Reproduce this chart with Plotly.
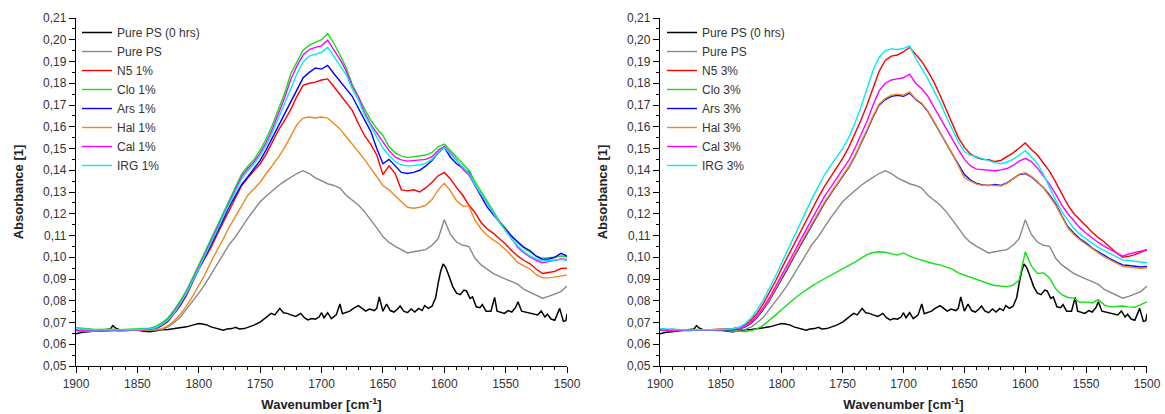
import plotly.graph_objects as go

# ---------------- data ----------------
wavenumber = list(range(1900, 1499, -5))  # 1900 ... 1500

black_wn = [1900, 1895, 1890, 1885, 1880, 1875, 1872, 1870, 1868, 1865, 1860, 1855, 1850, 1845, 1840, 1835,
            1830, 1825, 1820, 1815, 1810, 1805, 1800, 1797, 1793, 1790, 1785, 1780, 1777, 1773, 1770, 1767,
            1763, 1760, 1755, 1750, 1745, 1741, 1738, 1735, 1734, 1731, 1728, 1725, 1721, 1717, 1714, 1711,
            1708, 1705, 1702, 1700, 1698, 1695, 1692, 1688, 1685, 1683, 1680, 1677, 1674, 1670, 1667, 1664,
            1661, 1657, 1655, 1653, 1650, 1647, 1644, 1641, 1638, 1636, 1633, 1630, 1627, 1624, 1621, 1618,
            1616, 1613, 1610, 1607, 1605, 1603, 1601, 1599, 1597, 1595, 1593, 1590, 1587, 1584, 1582, 1579,
            1577, 1574, 1571, 1569, 1566, 1562, 1559, 1557, 1554, 1551, 1548, 1545, 1542, 1540, 1537, 1532,
            1528, 1524, 1521, 1518, 1516, 1513, 1510, 1506, 1503, 1501, 1500]
pure_ps_0h = [0.0648, 0.0655, 0.0657, 0.0660, 0.0663, 0.0665, 0.0670, 0.0686, 0.0675, 0.0668, 0.0667, 0.0666,
              0.0665, 0.0660, 0.0657, 0.0662, 0.0667, 0.0668, 0.0672, 0.0675, 0.0680, 0.0688, 0.0695, 0.0693,
              0.0688, 0.0680, 0.0672, 0.0665, 0.0670, 0.0672, 0.0678, 0.0670, 0.0672, 0.0678, 0.0688, 0.0702,
              0.0722, 0.0742, 0.0735, 0.0755, 0.0765, 0.0745, 0.0742, 0.0735, 0.0728, 0.0742, 0.0722, 0.0712,
              0.0718, 0.0715, 0.0725, 0.0745, 0.0722, 0.0745, 0.0718, 0.0735, 0.0785, 0.0740, 0.0745, 0.0752,
              0.0765, 0.0778, 0.0765, 0.0752, 0.0762, 0.0755, 0.0765, 0.0818, 0.0752, 0.0785, 0.0755, 0.0748,
              0.0762, 0.0776, 0.0752, 0.0745, 0.0762, 0.0748, 0.0765, 0.0755, 0.0778, 0.0765, 0.0775, 0.0815,
              0.0880, 0.0935, 0.0969, 0.0955, 0.0926, 0.0895, 0.0864, 0.0835, 0.0828, 0.0849, 0.0845, 0.0811,
              0.0818, 0.0772, 0.0768, 0.0782, 0.0752, 0.0752, 0.0815, 0.0752, 0.0748, 0.0742, 0.0755, 0.0748,
              0.0768, 0.0795, 0.0752, 0.0745, 0.0740, 0.0735, 0.0753, 0.0725, 0.0738, 0.0716, 0.0710, 0.0765,
              0.0705, 0.0708, 0.0740]

pure_ps = [0.0664, 0.0663, 0.0665, 0.0662, 0.0664, 0.0663, 0.0666, 0.0664, 0.0665, 0.0664,
           0.0663, 0.0665, 0.0664, 0.0665, 0.0668, 0.0680, 0.0700, 0.0725, 0.0760, 0.0795,
           0.0835, 0.0875, 0.0920, 0.0968, 0.1015, 0.1060, 0.1095, 0.1140, 0.1180, 0.1218,
           0.1255, 0.1282, 0.1308, 0.1330, 0.1350, 0.1368, 0.1385, 0.1398, 0.1385, 0.1365,
           0.1350, 0.1338, 0.1330, 0.1318, 0.1285, 0.1262, 0.1240, 0.1210, 0.1175, 0.1135,
           0.1095, 0.1068, 0.1050, 0.1035, 0.1020, 0.1025, 0.1030, 0.1035, 0.1055, 0.1085,
           0.1172, 0.1105, 0.1070, 0.1055, 0.1050, 0.0995, 0.0965, 0.0945, 0.0925, 0.0912,
           0.0900, 0.0890, 0.0875, 0.0852, 0.0838, 0.0825, 0.0812, 0.0820, 0.0832, 0.0842,
           0.0868]

# ----- 1 % samples (left panel) -----
n5_1 = [0.0665, 0.0663, 0.0664, 0.0662, 0.0663, 0.0664, 0.0662, 0.0663, 0.0665, 0.0664,
        0.0665, 0.0666, 0.0668, 0.0672, 0.0685, 0.0705, 0.0740, 0.0778, 0.0825, 0.0885,
        0.0945, 0.0995, 0.1045, 0.1105, 0.1160, 0.1220, 0.1275, 0.1330, 0.1365, 0.1395,
        0.1430, 0.1475, 0.1530, 0.1585, 0.1630, 0.1680, 0.1740, 0.1790, 0.1800, 0.1805,
        0.1815, 0.1820, 0.1785, 0.1750, 0.1715, 0.1675, 0.1615, 0.1560, 0.1520, 0.1470,
        0.1380, 0.1420, 0.1385, 0.1310, 0.1305, 0.1310, 0.1300, 0.1320, 0.1345, 0.1375,
        0.1390, 0.1360, 0.1320, 0.1285, 0.1240, 0.1205, 0.1160, 0.1130, 0.1110, 0.1085,
        0.1060, 0.1030, 0.1005, 0.0985, 0.0970, 0.0945, 0.0925, 0.0930, 0.0935, 0.0948,
        0.0950]
clo_1 = [0.0676, 0.0672, 0.0671, 0.0668, 0.0669, 0.0667, 0.0669, 0.0667, 0.0668, 0.0670,
         0.0671, 0.0673, 0.0674, 0.0682, 0.0698, 0.0722, 0.0758, 0.0800, 0.0848, 0.0905,
         0.0965, 0.1025, 0.1085, 0.1148, 0.1210, 0.1268, 0.1328, 0.1383, 0.1418, 0.1448,
         0.1492, 0.1545, 0.1608, 0.1678, 0.1755, 0.1845, 0.1902, 0.1952, 0.1975, 0.1988,
         0.2000, 0.2028, 0.1985, 0.1930, 0.1872, 0.1795, 0.1735, 0.1682, 0.1632, 0.1592,
         0.1560, 0.1508, 0.1480, 0.1466, 0.1458, 0.1462, 0.1466, 0.1470, 0.1482, 0.1508,
         0.1520, 0.1490, 0.1455, 0.1428, 0.1400, 0.1348, 0.1302, 0.1252, 0.1206, 0.1166,
         0.1132, 0.1100, 0.1066, 0.1042, 0.1022, 0.1004, 0.0996, 0.0997, 0.1000, 0.1006,
         0.1002]
ars_1 = [0.0666, 0.0664, 0.0665, 0.0663, 0.0664, 0.0662, 0.0664, 0.0663, 0.0664, 0.0665,
         0.0666, 0.0667, 0.0668, 0.0672, 0.0688, 0.0710, 0.0745, 0.0785, 0.0832, 0.0890,
         0.0950, 0.1000, 0.1055, 0.1115, 0.1175, 0.1235, 0.1285, 0.1335, 0.1370, 0.1405,
         0.1445, 0.1495, 0.1550, 0.1610, 0.1665, 0.1720, 0.1775, 0.1825, 0.1850, 0.1870,
         0.1865, 0.1882, 0.1845, 0.1810, 0.1780, 0.1740, 0.1685, 0.1630, 0.1580, 0.1500,
         0.1430, 0.1450, 0.1420, 0.1390, 0.1385, 0.1390, 0.1400, 0.1420, 0.1445, 0.1480,
         0.1505, 0.1460, 0.1430, 0.1410, 0.1390, 0.1330, 0.1280, 0.1230, 0.1195, 0.1160,
         0.1125, 0.1095, 0.1070, 0.1045, 0.1030, 0.1005, 0.0990, 0.0992, 0.1000, 0.1018,
         0.1005]
hal_1 = [0.0662, 0.0661, 0.0663, 0.0662, 0.0660, 0.0662, 0.0663, 0.0661, 0.0662, 0.0663,
         0.0664, 0.0665, 0.0665, 0.0667, 0.0672, 0.0685, 0.0708, 0.0738, 0.0775, 0.0820,
         0.0870, 0.0920, 0.0980, 0.1030, 0.1085, 0.1140, 0.1190, 0.1240, 0.1285, 0.1315,
         0.1345, 0.1385, 0.1420, 0.1460, 0.1505, 0.1560, 0.1610, 0.1640, 0.1645, 0.1640,
         0.1645, 0.1640, 0.1615, 0.1590, 0.1555, 0.1520, 0.1490, 0.1450, 0.1410, 0.1370,
         0.1330, 0.1310, 0.1280, 0.1255, 0.1230, 0.1225, 0.1230, 0.1240, 0.1265, 0.1310,
         0.1340, 0.1305, 0.1260, 0.1235, 0.1235, 0.1170, 0.1130, 0.1100, 0.1080, 0.1060,
         0.1035, 0.1005, 0.0975, 0.0960, 0.0945, 0.0920, 0.0905, 0.0905, 0.0910, 0.0915,
         0.0918]
cal_1 = [0.0664, 0.0662, 0.0665, 0.0663, 0.0660, 0.0662, 0.0664, 0.0661, 0.0663, 0.0664,
         0.0665, 0.0667, 0.0669, 0.0676, 0.0692, 0.0716, 0.0750, 0.0792, 0.0840, 0.0895,
         0.0955, 0.1012, 0.1072, 0.1135, 0.1198, 0.1256, 0.1318, 0.1372, 0.1408, 0.1438,
         0.1478, 0.1528, 0.1590, 0.1660, 0.1735, 0.1818, 0.1880, 0.1930, 0.1955, 0.1965,
         0.1972, 0.1998, 0.1955, 0.1910, 0.1858, 0.1785, 0.1738, 0.1665, 0.1612, 0.1572,
         0.1535, 0.1490, 0.1460, 0.1448, 0.1442, 0.1445, 0.1446, 0.1450, 0.1462, 0.1492,
         0.1510, 0.1478, 0.1448, 0.1405, 0.1378, 0.1330, 0.1288, 0.1245, 0.1206, 0.1160,
         0.1125, 0.1085, 0.1045, 0.1020, 0.1000, 0.0985, 0.0975, 0.0980, 0.0985, 0.0992,
         0.0990]
irg_1 = [0.0670, 0.0668, 0.0669, 0.0667, 0.0666, 0.0668, 0.0667, 0.0666, 0.0668, 0.0667,
         0.0668, 0.0669, 0.0671, 0.0676, 0.0690, 0.0712, 0.0745, 0.0788, 0.0835, 0.0890,
         0.0948, 0.1005, 0.1065, 0.1125, 0.1188, 0.1245, 0.1305, 0.1360, 0.1398, 0.1430,
         0.1468, 0.1515, 0.1575, 0.1640, 0.1705, 0.1775, 0.1845, 0.1898, 0.1925, 0.1935,
         0.1942, 0.1965, 0.1925, 0.1885, 0.1840, 0.1775, 0.1722, 0.1655, 0.1602, 0.1555,
         0.1502, 0.1468, 0.1440, 0.1425, 0.1420, 0.1422, 0.1425, 0.1432, 0.1450, 0.1482,
         0.1505, 0.1475, 0.1445, 0.1412, 0.1385, 0.1335, 0.1290, 0.1245, 0.1205, 0.1160,
         0.1120, 0.1085, 0.1050, 0.1025, 0.1005, 0.0992, 0.0985, 0.0985, 0.0987, 0.0990,
         0.0986]

# ----- 3 % samples (right panel) -----
n5_3 = [0.0668, 0.0666, 0.0668, 0.0665, 0.0667, 0.0666, 0.0665, 0.0667, 0.0666, 0.0668,
        0.0669, 0.0671, 0.0673, 0.0677, 0.0690, 0.0712, 0.0745, 0.0788, 0.0838, 0.0892,
        0.0950, 0.1005, 0.1060, 0.1115, 0.1170, 0.1222, 0.1275, 0.1325, 0.1368, 0.1410,
        0.1455, 0.1505, 0.1565, 0.1630, 0.1700, 0.1780, 0.1855, 0.1905, 0.1925, 0.1930,
        0.1945, 0.1965, 0.1930, 0.1900, 0.1855, 0.1805, 0.1745, 0.1680, 0.1610, 0.1550,
        0.1505, 0.1475, 0.1458, 0.1450, 0.1448, 0.1440, 0.1445, 0.1462, 0.1480, 0.1502,
        0.1525, 0.1495, 0.1470, 0.1432, 0.1395, 0.1345, 0.1290, 0.1240, 0.1200, 0.1170,
        0.1140, 0.1115, 0.1090, 0.1070, 0.1045, 0.1020, 0.1000, 0.1004, 0.1012, 0.1025,
        0.1035]
clo_3 = [0.0668, 0.0666, 0.0667, 0.0665, 0.0666, 0.0664, 0.0666, 0.0665, 0.0664, 0.0663,
         0.0661, 0.0659, 0.0657, 0.0656, 0.0658, 0.0663, 0.0672, 0.0688, 0.0710, 0.0735,
         0.0760, 0.0785, 0.0808, 0.0830, 0.0850, 0.0868, 0.0885, 0.0900, 0.0915, 0.0930,
         0.0945, 0.0962, 0.0978, 0.0995, 0.1012, 0.1022, 0.1025, 0.1023, 0.1018, 0.1010,
         0.1020, 0.1005, 0.0995, 0.0985, 0.0978, 0.0970, 0.0965, 0.0955, 0.0945, 0.0928,
         0.0918, 0.0905, 0.0895, 0.0885, 0.0878, 0.0870, 0.0866, 0.0865, 0.0872, 0.0895,
         0.1025, 0.0960, 0.0925, 0.0928, 0.0905, 0.0855, 0.0828, 0.0815, 0.0812, 0.0792,
         0.0795, 0.0790, 0.0805, 0.0780, 0.0772, 0.0775, 0.0776, 0.0772, 0.0770, 0.0782,
         0.0795]
ars_3 = [0.0670, 0.0667, 0.0668, 0.0666, 0.0664, 0.0665, 0.0666, 0.0664, 0.0665, 0.0666,
         0.0665, 0.0667, 0.0668, 0.0670, 0.0680, 0.0697, 0.0725, 0.0760, 0.0802, 0.0850,
         0.0900, 0.0950, 0.1002, 0.1052, 0.1102, 0.1152, 0.1200, 0.1248, 0.1290, 0.1330,
         0.1370, 0.1412, 0.1462, 0.1520, 0.1582, 0.1645, 0.1700, 0.1725, 0.1740, 0.1745,
         0.1740, 0.1755, 0.1725, 0.1705, 0.1670, 0.1622, 0.1570, 0.1525, 0.1475, 0.1425,
         0.1380, 0.1355, 0.1340, 0.1332, 0.1330, 0.1335, 0.1330, 0.1342, 0.1362, 0.1380,
         0.1385, 0.1370, 0.1345, 0.1320, 0.1285, 0.1245, 0.1190, 0.1140, 0.1110, 0.1085,
         0.1065, 0.1042, 0.1025, 0.1008, 0.0992, 0.0978, 0.0965, 0.0962, 0.0958, 0.0955,
         0.0958]
hal_3 = [0.0667, 0.0665, 0.0667, 0.0665, 0.0666, 0.0664, 0.0665, 0.0666, 0.0664, 0.0665,
         0.0666, 0.0668, 0.0669, 0.0672, 0.0683, 0.0700, 0.0729, 0.0764, 0.0806, 0.0855,
         0.0905, 0.0955, 0.1007, 0.1058, 0.1108, 0.1158, 0.1205, 0.1252, 0.1294, 0.1334,
         0.1374, 0.1416, 0.1466, 0.1524, 0.1586, 0.1650, 0.1705, 0.1730, 0.1745, 0.1750,
         0.1745, 0.1760, 0.1728, 0.1708, 0.1672, 0.1625, 0.1572, 0.1525, 0.1478, 0.1420,
         0.1365, 0.1350, 0.1336, 0.1330, 0.1332, 0.1330, 0.1328, 0.1340, 0.1360, 0.1382,
         0.1388, 0.1372, 0.1348, 0.1318, 0.1280, 0.1240, 0.1188, 0.1135, 0.1105, 0.1080,
         0.1060, 0.1038, 0.1020, 0.1002, 0.0988, 0.0972, 0.0958, 0.0955, 0.0950, 0.0948,
         0.0952]
cal_3 = [0.0666, 0.0664, 0.0666, 0.0664, 0.0665, 0.0663, 0.0665, 0.0664, 0.0666, 0.0665,
         0.0666, 0.0668, 0.0670, 0.0673, 0.0684, 0.0702, 0.0732, 0.0770, 0.0815, 0.0865,
         0.0918, 0.0970, 0.1022, 0.1075, 0.1128, 0.1180, 0.1230, 0.1280, 0.1320, 0.1360,
         0.1400, 0.1445, 0.1500, 0.1560, 0.1625, 0.1700, 0.1765, 0.1800, 0.1815, 0.1820,
         0.1825, 0.1842, 0.1800, 0.1775, 0.1740, 0.1690, 0.1640, 0.1590, 0.1540, 0.1495,
         0.1450, 0.1420, 0.1405, 0.1402, 0.1398, 0.1398, 0.1402, 0.1408, 0.1422, 0.1442,
         0.1455, 0.1440, 0.1410, 0.1375, 0.1335, 0.1290, 0.1240, 0.1200, 0.1165, 0.1135,
         0.1110, 0.1088, 0.1068, 0.1050, 0.1035, 0.1018, 0.1005, 0.1015, 0.1022, 0.1030,
         0.1035]
irg_3 = [0.0672, 0.0670, 0.0668, 0.0667, 0.0666, 0.0665, 0.0667, 0.0666, 0.0668, 0.0667,
         0.0668, 0.0670, 0.0672, 0.0678, 0.0695, 0.0722, 0.0760, 0.0805, 0.0858, 0.0915,
         0.0975, 0.1035, 0.1095, 0.1155, 0.1218, 0.1272, 0.1325, 0.1378, 0.1420, 0.1458,
         0.1500, 0.1550, 0.1615, 0.1690, 0.1770, 0.1860, 0.1920, 0.1950, 0.1958, 0.1955,
         0.1960, 0.1972, 0.1915, 0.1870, 0.1820, 0.1765, 0.1712, 0.1648, 0.1590, 0.1530,
         0.1485, 0.1470, 0.1462, 0.1452, 0.1445, 0.1435, 0.1430, 0.1438, 0.1450, 0.1470,
         0.1490, 0.1462, 0.1430, 0.1380, 0.1320, 0.1262, 0.1210, 0.1170, 0.1132, 0.1105,
         0.1085, 0.1062, 0.1045, 0.1030, 0.1015, 0.1000, 0.0988, 0.0985, 0.0980, 0.0978,
         0.0975]

left_names = ["N5 1%", "Clo 1%", "Ars 1%", "Hal 1%", "Cal 1%", "IRG 1%"]
right_names = ["N5 3%", "Clo 3%", "Ars 3%", "Hal 3%", "Cal 3%", "IRG 3%"]
left_series = [n5_1, clo_1, ars_1, hal_1, cal_1, irg_1]
right_series = [n5_3, clo_3, ars_3, hal_3, cal_3, irg_3]
sample_colors = ["#FF0000", "#14E014", "#0000FF", "#EE8822", "#FF00FF", "#00EEEE"]

# ---------------- figure ----------------
fig = go.Figure()

for panel, (names, series, lg) in enumerate([(left_names, left_series, "legend"),
                                             (right_names, right_series, "legend2")]):
    xa = "x" if panel == 0 else "x2"
    ya = "y" if panel == 0 else "y2"
    fig.add_trace(go.Scatter(x=black_wn, y=pure_ps_0h, mode="lines", name="Pure PS (0 hrs)",
                             line=dict(color="#000000", width=1.5), xaxis=xa, yaxis=ya, legend=lg))
    fig.add_trace(go.Scatter(x=wavenumber, y=pure_ps, mode="lines", name="Pure PS",
                             line=dict(color="#888888", width=1.4), xaxis=xa, yaxis=ya, legend=lg))
    for nm, vals, col in zip(names, series, sample_colors):
        fig.add_trace(go.Scatter(x=wavenumber, y=vals, mode="lines", name=nm,
                                 line=dict(color=col, width=1.4), xaxis=xa, yaxis=ya, legend=lg))

axis_font = dict(family="Liberation Sans, Arial, sans-serif", size=12, color="#333333")
title_font = dict(family="Liberation Sans, Arial, sans-serif", size=13, color="#222222")

def xaxis_cfg(domain, anchor):
    return dict(domain=domain, anchor=anchor, range=[1900, 1500], tickmode="linear", tick0=1500, dtick=50,
                ticks="outside", ticklen=6, tickwidth=1.2, tickcolor="#000", showline=True,
                linecolor="#000", linewidth=1.3, showgrid=False, zeroline=False, tickfont=axis_font,
                minor=dict(dtick=10, ticks="outside", ticklen=3, tickwidth=1, tickcolor="#000"),
                title=dict(text="<b>Wavenumber [cm<sup>-1</sup>]</b>", font=title_font, standoff=10))

def yaxis_cfg(anchor):
    return dict(domain=[0, 1], anchor=anchor, range=[0.05, 0.21], tickmode="linear", tick0=0.05, dtick=0.01,
                tickformat=".2f", ticks="outside", ticklen=6, tickwidth=1.2, tickcolor="#000", showline=True,
                linecolor="#000", linewidth=1.3, showgrid=False, zeroline=False, tickfont=axis_font,
                minor=dict(dtick=0.005, ticks="outside", ticklen=3, tickwidth=1, tickcolor="#000"),
                title=dict(text="<b>Absorbance [1]</b>", font=title_font, standoff=16))

legend_common = dict(yanchor="top", y=1.0, xanchor="left", bgcolor="rgba(0,0,0,0)", borderwidth=0,
                     font=dict(family="Liberation Sans, Arial, sans-serif", size=12, color="#333333"),
                     itemwidth=30, tracegroupgap=0)

fig.update_layout(
    width=1165, height=414,
    margin=dict(l=76, r=18, t=18, b=48, autoexpand=False),
    paper_bgcolor="white", plot_bgcolor="white",
    separators=",.",
    showlegend=True,
    xaxis=xaxis_cfg([0, 0.4585], "y"),
    yaxis=yaxis_cfg("x"),
    xaxis2=xaxis_cfg([0.5453, 1.0], "y2"),
    yaxis2=yaxis_cfg("x2"),
    legend=dict(x=1 / 1071, **legend_common),
    legend2=dict(x=586 / 1071, **legend_common),
)

fig.write_html("out.html")
